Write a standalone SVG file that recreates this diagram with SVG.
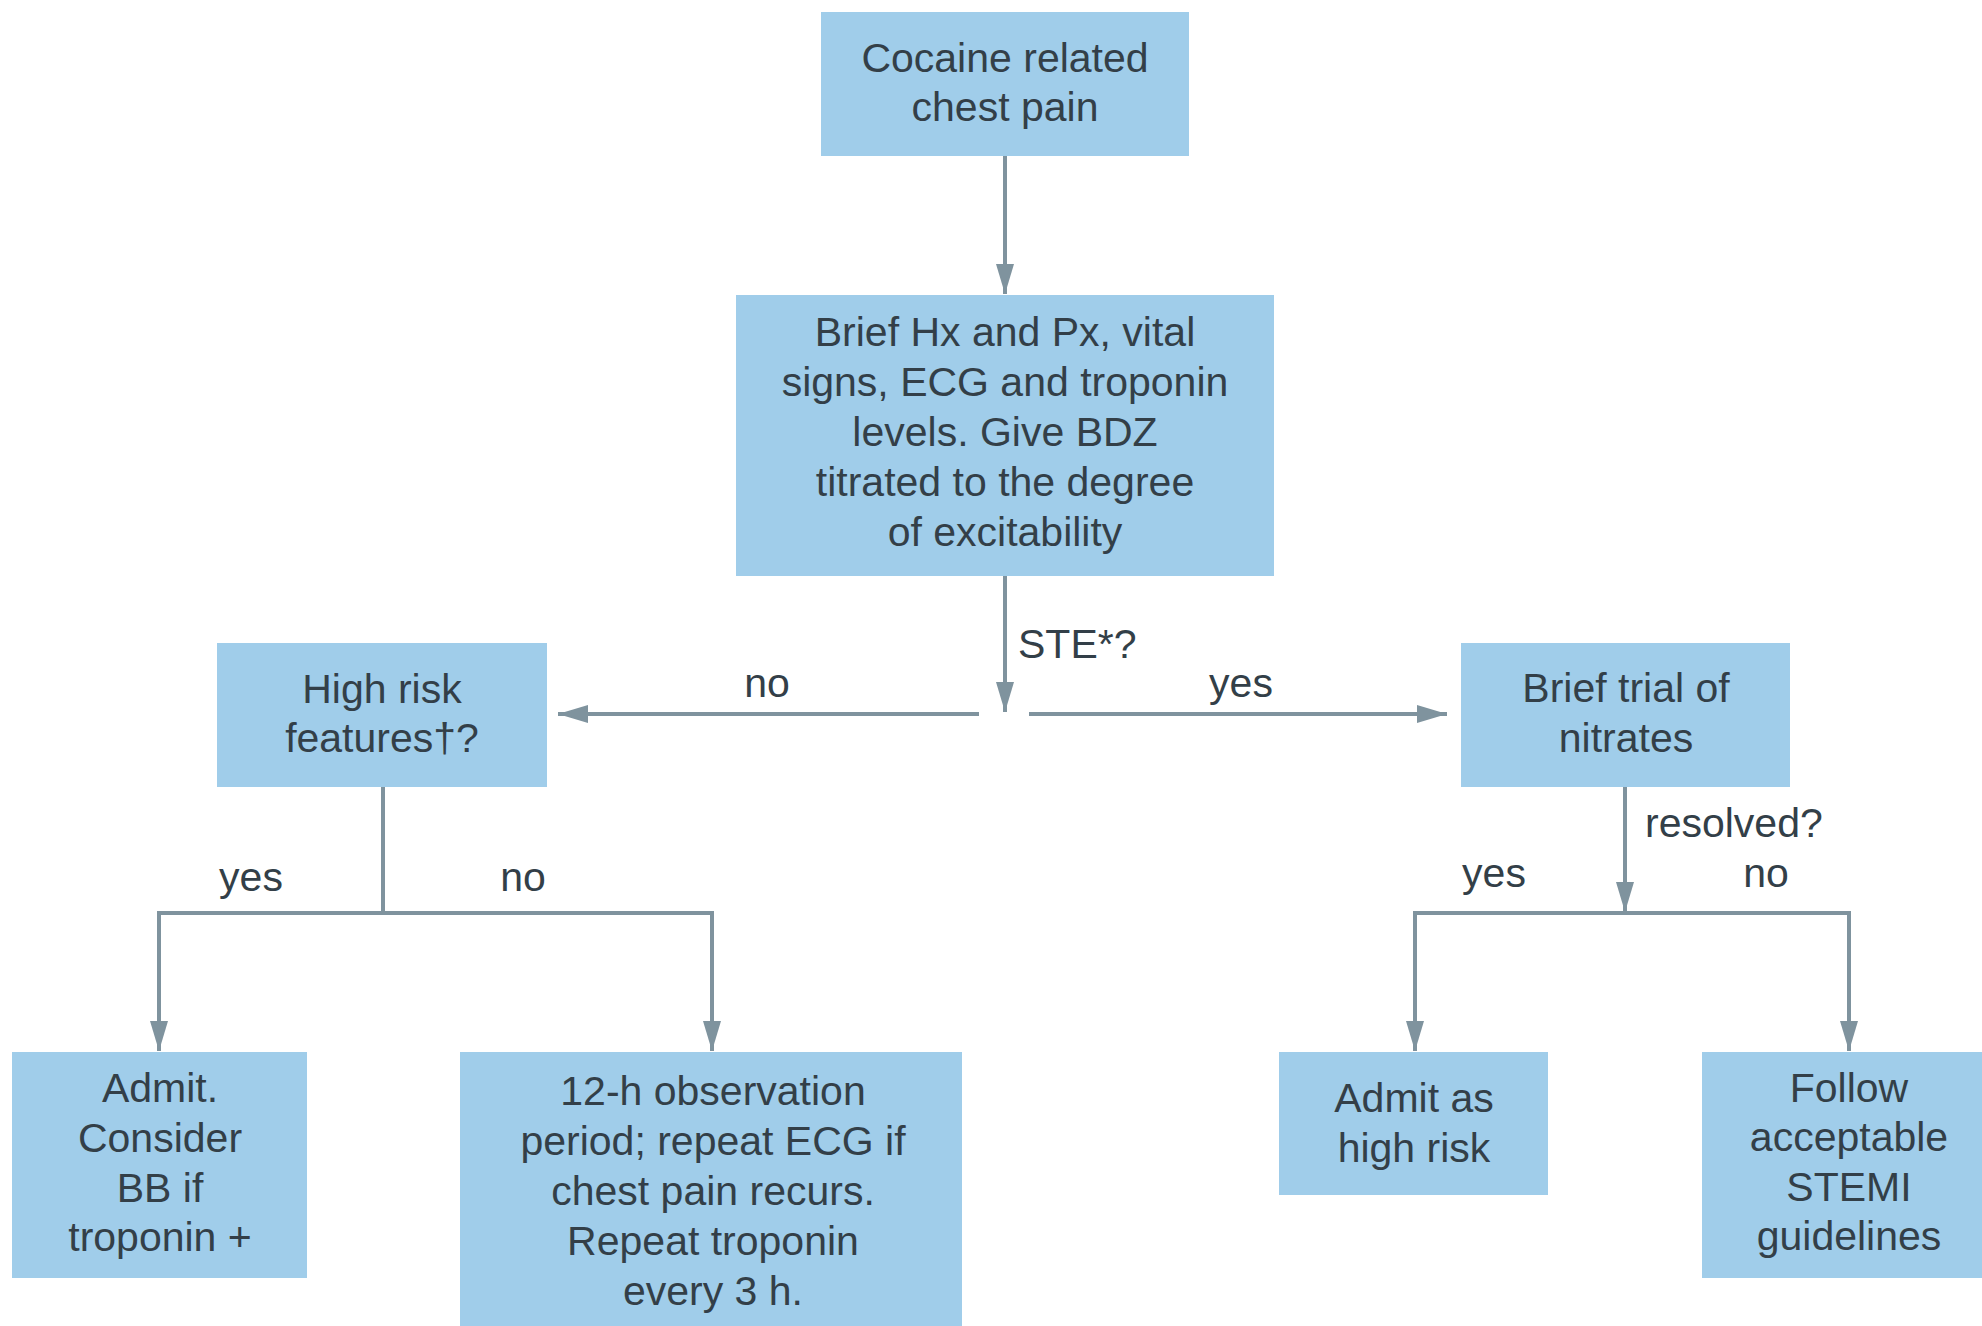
<svg xmlns="http://www.w3.org/2000/svg" width="1982" height="1326" viewBox="0 0 1982 1326">
<style>
.box{fill:#a0cdea;}
.t{font-family:"Liberation Sans",Arial,sans-serif;font-size:41px;fill:#333f48;text-anchor:middle;}
.lbl{font-family:"Liberation Sans",Arial,sans-serif;font-size:41px;fill:#333f48;}
.c{stroke:#7f939e;stroke-width:4;fill:none;}
</style>
<defs>
<marker id="ah" markerUnits="userSpaceOnUse" markerWidth="32" markerHeight="20" refX="30" refY="9" orient="auto">
<path d="M0,0 L30,9 L0,18 z" fill="#7f939e"/>
</marker>
</defs>
<rect width="1982" height="1326" fill="#ffffff"/>
<g id="connectors">
<line class="c" x1="1005" y1="156" x2="1005" y2="294" marker-end="url(#ah)"/>
<line class="c" x1="1005" y1="576" x2="1005" y2="712" marker-end="url(#ah)"/>
<line class="c" x1="979" y1="714" x2="558" y2="714" marker-end="url(#ah)"/>
<line class="c" x1="1029" y1="714" x2="1447" y2="714" marker-end="url(#ah)"/>
<polyline class="c" points="383,787 383,913"/>
<polyline class="c" points="383,913 159,913 159,1051" marker-end="url(#ah)"/>
<polyline class="c" points="383,913 712,913 712,1051" marker-end="url(#ah)"/>
<line class="c" x1="1625" y1="787" x2="1625" y2="912" marker-end="url(#ah)"/>
<polyline class="c" points="1625,913 1415,913 1415,1051" marker-end="url(#ah)"/>
<polyline class="c" points="1625,913 1849,913 1849,1051" marker-end="url(#ah)"/>
<text class="lbl" x="1018" y="658">STE*?</text>
<text class="lbl" x="767" y="697" text-anchor="middle">no</text>
<text class="lbl" x="1241" y="697" text-anchor="middle">yes</text>
<text class="lbl" x="251" y="891" text-anchor="middle">yes</text>
<text class="lbl" x="523" y="891" text-anchor="middle">no</text>
<text class="lbl" x="1645" y="837">resolved?</text>
<text class="lbl" x="1494" y="887" text-anchor="middle">yes</text>
<text class="lbl" x="1766" y="887" text-anchor="middle">no</text>
</g>
<g id="n1">
<rect class="box" x="821" y="12" width="368" height="144"/>
<text class="t" x="1005" y="72">Cocaine related</text>
<text class="t" x="1005" y="121">chest pain</text>
</g>
<g id="n2">
<rect class="box" x="736" y="295" width="538" height="281"/>
<text class="t" x="1005" y="346">Brief Hx and Px, vital</text>
<text class="t" x="1005" y="396">signs, ECG and troponin</text>
<text class="t" x="1005" y="446">levels. Give BDZ</text>
<text class="t" x="1005" y="496">titrated to the degree</text>
<text class="t" x="1005" y="546">of excitability</text>
</g>
<g id="n3">
<rect class="box" x="217" y="643" width="330" height="144"/>
<text class="t" x="382" y="703">High risk</text>
<text class="t" x="382" y="752">features†?</text>
</g>
<g id="n4">
<rect class="box" x="1461" y="643" width="329" height="144"/>
<text class="t" x="1626" y="702">Brief trial of</text>
<text class="t" x="1626" y="752">nitrates</text>
</g>
<g id="n5">
<rect class="box" x="12" y="1052" width="295" height="226"/>
<text class="t" x="160" y="1102">Admit.</text>
<text class="t" x="160" y="1152">Consider</text>
<text class="t" x="160" y="1202">BB if</text>
<text class="t" x="160" y="1251">troponin +</text>
</g>
<g id="n6">
<rect class="box" x="460" y="1052" width="502" height="274"/>
<text class="t" x="713" y="1105">12-h observation</text>
<text class="t" x="713" y="1155">period; repeat ECG if</text>
<text class="t" x="713" y="1205">chest pain recurs.</text>
<text class="t" x="713" y="1255">Repeat troponin</text>
<text class="t" x="713" y="1305">every 3 h.</text>
</g>
<g id="n7">
<rect class="box" x="1279" y="1052" width="269" height="143"/>
<text class="t" x="1414" y="1112">Admit as</text>
<text class="t" x="1414" y="1162">high risk</text>
</g>
<g id="n8">
<rect class="box" x="1702" y="1052" width="280" height="226"/>
<text class="t" x="1849" y="1102">Follow</text>
<text class="t" x="1849" y="1151">acceptable</text>
<text class="t" x="1849" y="1201">STEMI</text>
<text class="t" x="1849" y="1250">guidelines</text>
</g>
</svg>
